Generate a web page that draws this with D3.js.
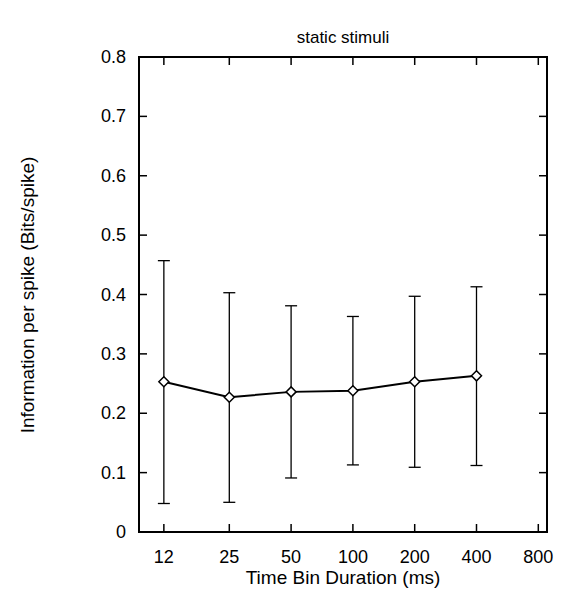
<!DOCTYPE html>
<html><head><meta charset="utf-8">
<script src="https://cdn.jsdelivr.net/npm/d3@7"></script>
<style>body{margin:0;background:#fff}text{font-family:"Liberation Sans",Arial,sans-serif;fill:#000}</style>
</head><body>
<script>
const binMs = [12, 25, 50, 100, 200, 400]
const infoMean = [0.253, 0.227, 0.236, 0.238, 0.253, 0.263]
const infoLow = [0.048, 0.050, 0.091, 0.113, 0.109, 0.112]
const infoHigh = [0.457, 0.403, 0.381, 0.363, 0.397, 0.413]
const xTicks = [12, 25, 50, 100, 200, 400, 800]
const yTicks = [0, 0.1, 0.2, 0.3, 0.4, 0.5, 0.6, 0.7, 0.8]

const svg = d3.select('body').append('svg').attr('width', 579).attr('height', 616)
const L = 139, R = 547, T = 57, B = 532
const x = d3.scaleLog().domain([9.08, 882]).range([L, R])
const y = d3.scaleLinear().domain([0, 0.8]).range([B, T])

// ticks inside, both sides
yTicks.forEach(t => {
  svg.append('line').attr('x1', L).attr('x2', L + 8).attr('y1', y(t)).attr('y2', y(t)).attr('stroke', '#000').attr('stroke-width', 1.5)
  svg.append('line').attr('x1', R).attr('x2', R - 8).attr('y1', y(t)).attr('y2', y(t)).attr('stroke', '#000').attr('stroke-width', 1.5)
  svg.append('text').attr('x', L - 13).attr('y', y(t) + 6).attr('text-anchor', 'end').attr('font-size', 18).text(t === 0 ? '0' : t.toFixed(1))
})
xTicks.forEach(t => {
  svg.append('line').attr('x1', x(t)).attr('x2', x(t)).attr('y1', B).attr('y2', B - 8).attr('stroke', '#000').attr('stroke-width', 1.5)
  svg.append('line').attr('x1', x(t)).attr('x2', x(t)).attr('y1', T).attr('y2', T + 8).attr('stroke', '#000').attr('stroke-width', 1.5)
  svg.append('text').attr('x', x(t)).attr('y', B + 31).attr('text-anchor', 'middle').attr('font-size', 18).text(t)
})
svg.append('rect').attr('x', L).attr('y', T).attr('width', R - L).attr('height', B - T)
  .attr('fill', 'none').attr('stroke', '#000').attr('stroke-width', 2)

// error bars
binMs.forEach((b, i) => {
  const cx = x(b)
  svg.append('line').attr('x1', cx).attr('x2', cx).attr('y1', y(infoLow[i])).attr('y2', y(infoHigh[i])).attr('stroke', '#000').attr('stroke-width', 1.3)
  ;[infoLow[i], infoHigh[i]].forEach(v => {
    svg.append('line').attr('x1', cx - 6).attr('x2', cx + 6).attr('y1', y(v)).attr('y2', y(v)).attr('stroke', '#000').attr('stroke-width', 1.3)
  })
})
const line = d3.line().x((d, i) => x(binMs[i])).y(d => y(d))
svg.append('path').attr('d', line(infoMean)).attr('fill', 'none').attr('stroke', '#000').attr('stroke-width', 2)
svg.selectAll('.pt').data(infoMean).enter().append('path')
  .attr('transform', (d, i) => `translate(${x(binMs[i])},${y(d)})`)
  .attr('d', 'M0,-5L5,0L0,5L-5,0Z').attr('fill', '#fff').attr('stroke', '#000').attr('stroke-width', 1.5)

svg.append('text').attr('x', 343).attr('y', 43).attr('text-anchor', 'middle').attr('font-size', 17).text('static stimuli')
svg.append('text').attr('x', 343).attr('y', 584).attr('text-anchor', 'middle').attr('font-size', 19).text('Time Bin Duration (ms)')
svg.append('text').attr('transform', 'translate(34,295) rotate(-90)').attr('text-anchor', 'middle').attr('font-size', 19).text('Information per spike (Bits/spike)')
</script>
</body></html>
